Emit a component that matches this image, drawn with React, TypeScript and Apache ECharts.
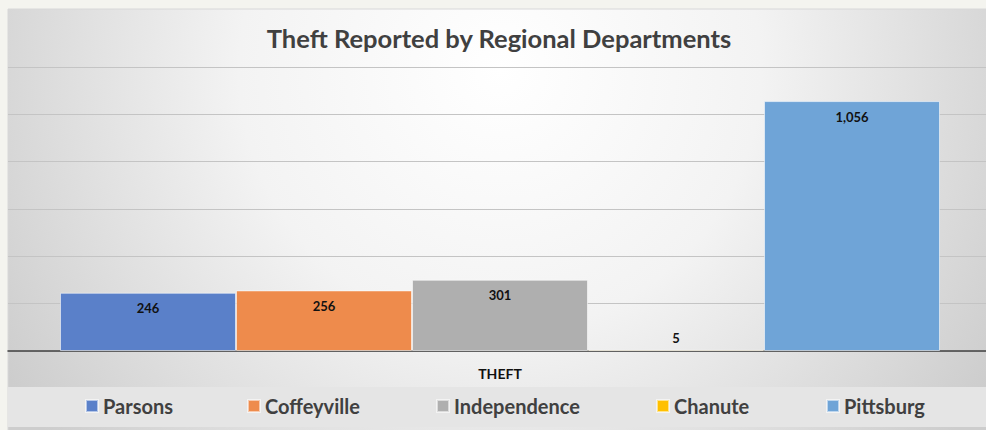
import React, { useEffect, useRef } from "react";
import * as echarts from "echarts";

const categories = ["THEFT"];
const departments = ["Parsons", "Coffeyville", "Independence", "Chanute", "Pittsburg"];
const theftValues = [246, 256, 301, 5, 1056];
const departmentColors = ["#5a80c9", "#ee8b4c", "#afafaf", "#ffc000", "#6fa4d7"];
const yTicks = { min: 0, max: 1200, interval: 200 };
const legendLefts = [85, 247, 436, 656, 826];

const FONT = "Lato, 'Open Sans', sans-serif";

export default function App() {
  const ref = useRef<HTMLDivElement>(null);
  useEffect(() => {
    if (!ref.current) return;
    const chart = echarts.init(ref.current, undefined, { renderer: "svg" });
    const fmt = (v: number) => v.toLocaleString("en-US");
    const series = departments.map((name, i) => ({
      name,
      type: "bar",
      barWidth: 176,
      barGap: "0%",
      itemStyle: {
        color: departmentColors[i],
        borderColor: "rgba(255,255,255,0.55)",
        borderWidth: 1,
      },
      label: {
        show: true,
        position: theftValues[i] < 40 ? "top" : "insideTop",
        distance: theftValues[i] < 40 ? 5 : 9,
        formatter: (p: any) => fmt(p.value),
        fontFamily: FONT,
        fontWeight: "bold",
        fontSize: 13,
        color: "#111111",
      },
      data: [theftValues[i]],
    }));
    chart.setOption({
      animation: false,
      backgroundColor: "#f4f4ef",
      title: {
        text: "Theft Reported by Regional Departments",
        left: 494,
        top: 20,
        textAlign: "center",
        textStyle: {
          fontFamily: FONT,
          fontWeight: "bold",
          fontSize: 25.5,
          color: "#404040",
        },
      },
      graphic: [
        {
          type: "rect",
          z: -10,
          silent: true,
          shape: { x: 8, y: 9, width: 1000, height: 430 },
          style: {
            fill: new echarts.graphic.RadialGradient(
              500,
              70,
              580,
              [
                { offset: 0, color: "#ffffff" },
                { offset: 0.45, color: "#f3f3f3" },
                { offset: 1, color: "#cdcdcd" },
              ],
              true
            ),
            stroke: "#d8d8d8",
            lineWidth: 1,
          },
        },
        {
          type: "rect",
          z: -9,
          silent: true,
          shape: { x: 8, y: 387, width: 1000, height: 40 },
          style: { fill: "#e5e5e5" },
        },
      ],
      legend: departments.map((name, i) => ({
        data: [name],
        left: legendLefts[i],
        top: 396,
        padding: 0,
        itemWidth: 12,
        itemHeight: 12,
        icon: "rect",
        textStyle: {
          fontFamily: FONT,
          fontWeight: "bold",
          fontSize: 20,
          color: "#404040",
        },
      })),
      grid: { left: 8, right: 6, top: 67, bottom: 79, containLabel: false },
      xAxis: {
        type: "category",
        data: categories,
        axisLine: { show: true, lineStyle: { color: "#404040", width: 1.5 } },
        axisTick: { show: false },
        axisLabel: {
          margin: 15,
          fontFamily: FONT,
          fontWeight: "bold",
          fontSize: 14,
          color: "#111111",
        },
      },
      yAxis: {
        type: "value",
        min: yTicks.min,
        max: yTicks.max,
        interval: yTicks.interval,
        axisLabel: { show: false },
        axisLine: { show: false },
        axisTick: { show: false },
        splitLine: { lineStyle: { color: "#c4c4c4", width: 1 } },
      },
      series,
    });
    return () => chart.dispose();
  }, []);
  return (
    <div style={{ position: "fixed", left: 0, top: 0, width: 986, height: 430, overflow: "hidden" }}>
      <div ref={ref} style={{ width: 998, height: 430 }} />
    </div>
  );
}
